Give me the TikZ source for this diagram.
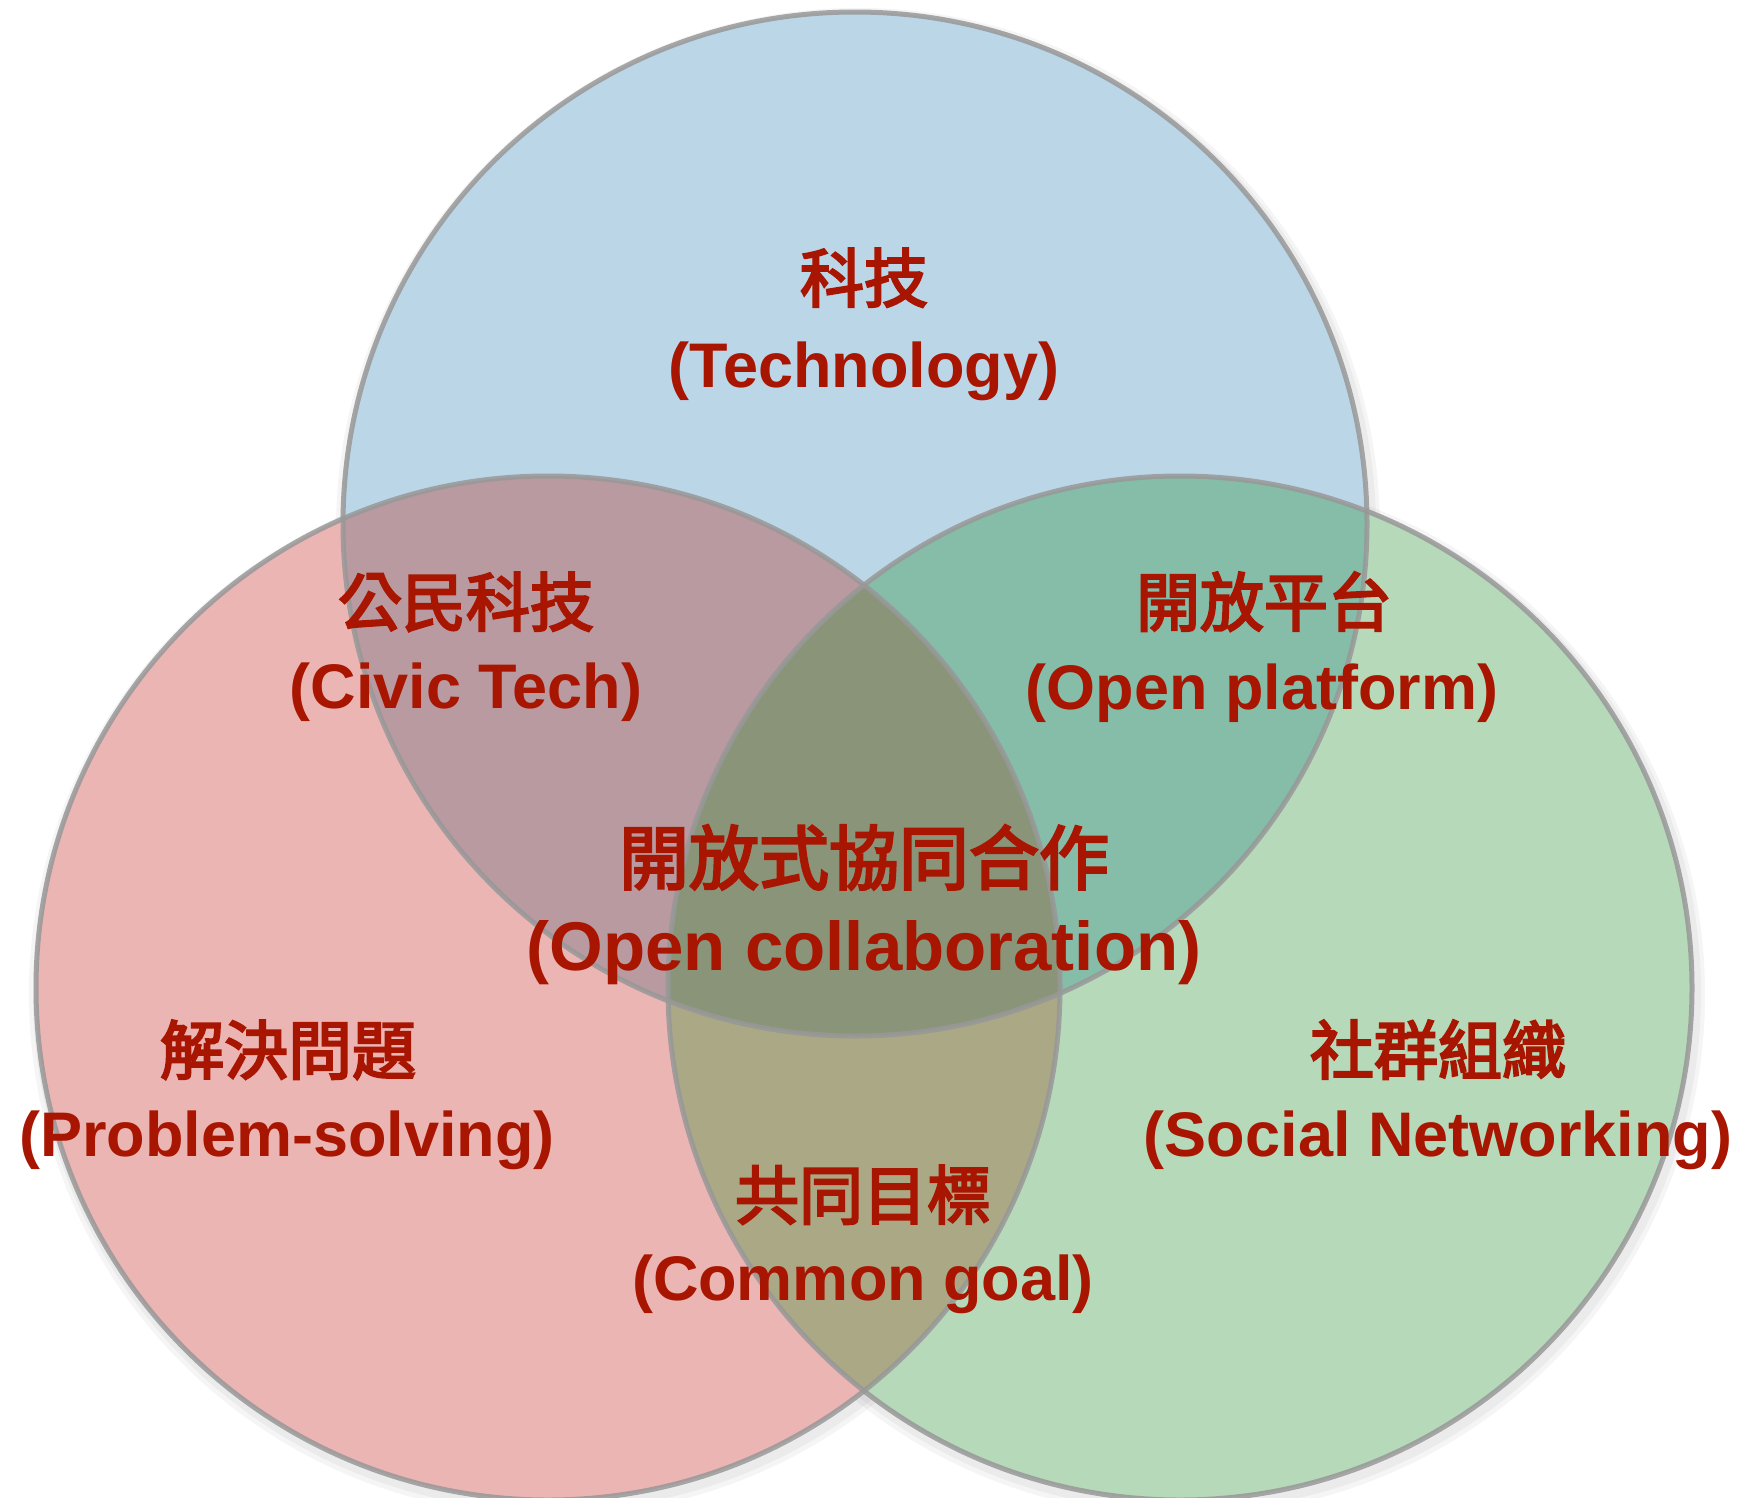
\documentclass[tikz,border=0pt]{standalone}
\usepackage{fontspec}
\setmainfont{Liberation Sans}
\newfontfamily\cjk{Noto Sans CJK TC}[FakeBold=3.5]
\definecolor{cBlue}{HTML}{BBD6E7}
\definecolor{cRed}{HTML}{EBB5B3}
\definecolor{cGreen}{HTML}{B6D9BA}
\definecolor{cBR}{HTML}{B99AA0}
\definecolor{cBG}{HTML}{85BDA9}
\definecolor{cRG}{HTML}{ABA886}
\definecolor{cAll}{HTML}{8A9479}
\definecolor{cLine}{HTML}{989898}
\definecolor{cText}{HTML}{A81500}
\tikzset{
  lbl/.style={anchor=base, inner sep=0pt, text=cText},
  outline/.style={draw=cLine, line width=5pt, draw opacity=0.85},
  cshadow/.style={draw=black, line width=10pt, draw opacity=0.04},
  zhA/.style={font=\cjk\fontsize{64}{70}\selectfont},
  enA/.style={font=\bfseries\fontsize{63}{70}\selectfont},
  zhB/.style={font=\cjk\fontsize{70}{76}\selectfont},
  enB/.style={font=\bfseries\fontsize{69}{76}\selectfont}
}
\begin{document}
\begin{tikzpicture}[x=1pt,y=-1pt]
\useasboundingbox (0,0) rectangle (1743,1497);
\clip (0,0) rectangle (1743,1497);
\coordinate (B) at (855,524);
\coordinate (R) at (548,988);
\coordinate (G) at (1180,988);
% soft outer shadows
\foreach \c in {B,R,G}{
  \draw[cshadow] ([shift={(3,5)}]\c) circle[radius=513pt];
  \draw[cshadow,line width=16pt] ([shift={(3,6)}]\c) circle[radius=514pt];
}
% base fills
\fill[cBlue] (B) circle[radius=512pt];
\fill[cRed] (R) circle[radius=512pt];
\fill[cGreen] (G) circle[radius=512pt];
% overlaps
\begin{scope}
  \clip (B) circle[radius=512pt];
  \fill[cBR] (R) circle[radius=512pt];
  \fill[cBG] (G) circle[radius=512pt];
\end{scope}
\begin{scope}
  \clip (R) circle[radius=512pt];
  \fill[cRG] (G) circle[radius=512pt];
\end{scope}
\begin{scope}
  \clip (B) circle[radius=512pt];
  \clip (R) circle[radius=512pt];
  \fill[cAll] (G) circle[radius=512pt];
\end{scope}
% outlines
\draw[outline] (B) circle[radius=512pt];
\draw[outline] (R) circle[radius=512pt];
\draw[outline] (G) circle[radius=512pt];
% labels
\node[lbl,zhA] (techzh) at (864,302) {科技};
\node[lbl,enA] (techen) at (864,387) {(Technology)};
\node[lbl,zhA] (civiczh) at (466,626) {公民科技};
\node[lbl,enA] (civicen) at (466,708) {(Civic Tech)};
\node[lbl,zhA] (platzh) at (1264,626) {開放平台};
\node[lbl,enA] (platen) at (1262,709) {(Open platform)};
\node[lbl,zhB] (collabzh) at (864,884) {開放式協同合作};
\node[lbl,enB] (collaben) at (864,970) {(Open collaboration)};
\node[lbl,zhA] (probzh) at (288,1074) {解決問題};
\node[lbl,enA] (proben) at (287,1156) {(Problem-solving)};
\node[lbl,zhA] (soczh) at (1438,1074) {社群組織};
\node[lbl,enA] (socen) at (1438,1156) {(Social Networking)};
\node[lbl,zhA] (goalzh) at (863,1219) {共同目標};
\node[lbl,enA] (goalen) at (863,1300) {(Common goal)};
\end{tikzpicture}
\end{document}
